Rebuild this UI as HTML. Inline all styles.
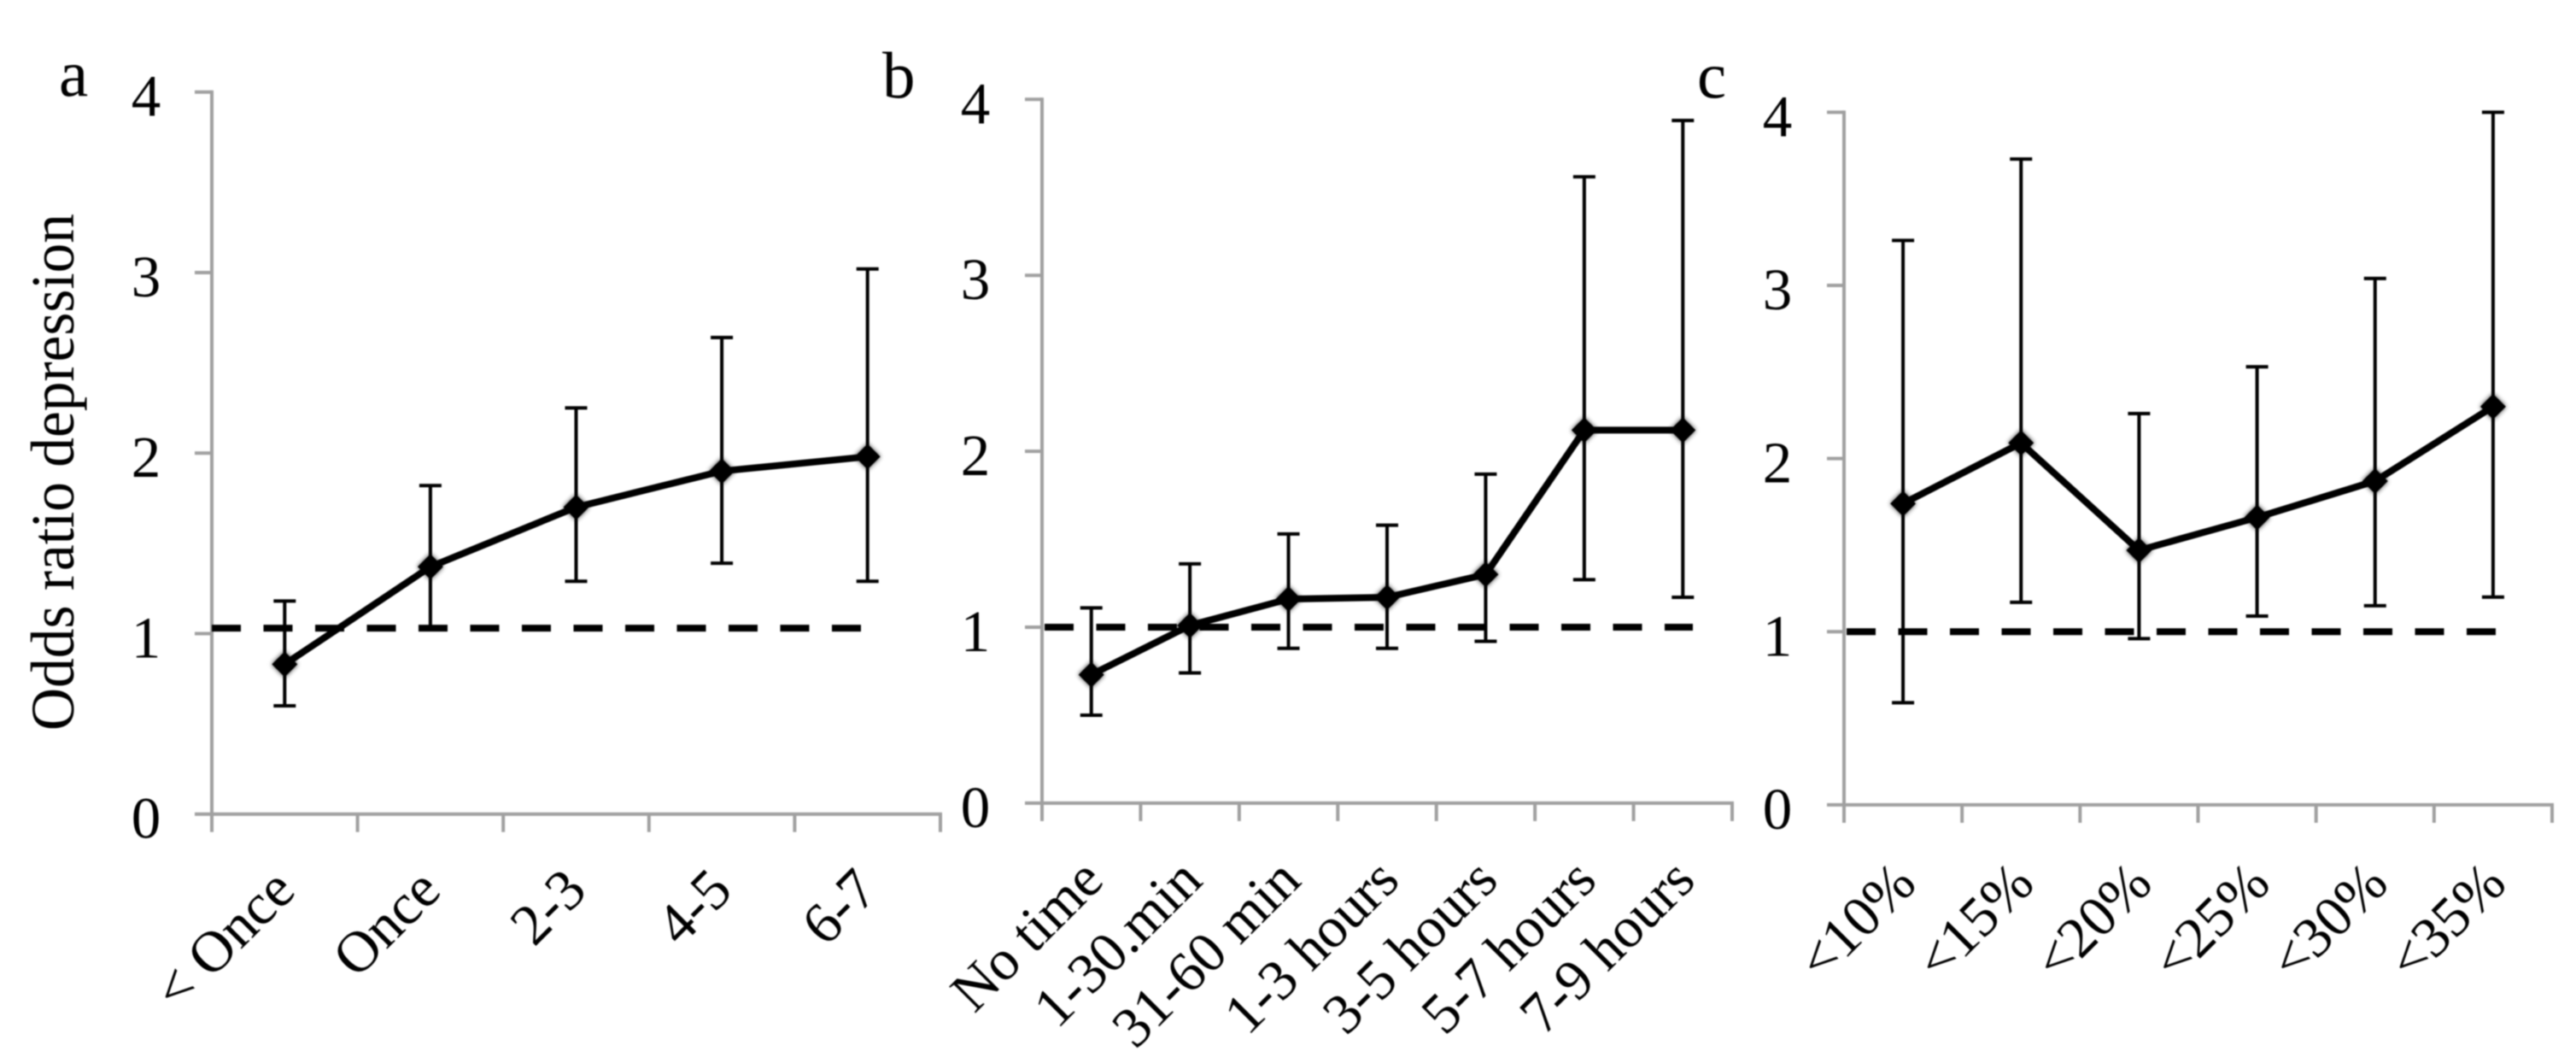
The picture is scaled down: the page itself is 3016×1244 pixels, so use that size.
<!DOCTYPE html>
<html lang="en">
<head>
<meta charset="utf-8">
<title>Odds ratio of depression by panel</title>
<style>
  html, body { margin: 0; padding: 0; background: #ffffff; }
  body { width: 3016px; height: 1244px; overflow: hidden; }
  svg { display: block; filter: blur(0.7px); }
  text { font-family: "Liberation Serif", "DejaVu Serif", serif; fill: #000; }
</style>
</head>
<body>
<svg id="chart" xmlns="http://www.w3.org/2000/svg" width="3016" height="1244" viewBox="0 0 3016 1244">
  <defs>
    <filter id="soft" x="-60%" y="-60%" width="220%" height="220%">
      <feGaussianBlur stdDeviation="3"></feGaussianBlur>
    </filter>
  </defs>
  <rect x="0" y="0" width="3016" height="1244" fill="#ffffff"></rect>
  <text transform="translate(86 855) rotate(-90)" font-size="72" textLength="605" lengthAdjust="spacingAndGlyphs">Odds ratio depression</text>
  <text x="69" y="112" font-size="77">a</text>
  <text x="1033" y="114" font-size="77">b</text>
  <text x="1987" y="114" font-size="77">c</text>
</svg>
<script>
const yTicks = [0, 1, 2, 3, 4];

const aCategories = ['< Once', 'Once', '2-3', '4-5', '6-7'];
const aValues = [0.83, 1.37, 1.70, 1.90, 1.98];
const aUpper = [1.18, 1.82, 2.25, 2.64, 3.02];
const aLower = [0.60, 1.03, 1.29, 1.39, 1.29];
const aReference = 1.03;

const bCategories = ['No time', '1-30.min', '31-60 min', '1-3 hours', '3-5 hours', '5-7 hours', '7-9 hours'];
const bValues = [0.73, 1.01, 1.16, 1.17, 1.30, 2.12, 2.12];
const bUpper = [1.11, 1.36, 1.53, 1.58, 1.87, 3.56, 3.88];
const bLower = [0.50, 0.74, 0.88, 0.88, 0.92, 1.27, 1.17];
const bReference = 1.0;

const cCategories = ['<10%', '<15%', '<20%', '<25%', '<30%', '<35%'];
const cValues = [1.74, 2.09, 1.47, 1.66, 1.87, 2.30];
const cUpper = [3.26, 3.73, 2.26, 2.53, 3.04, 4.00];
const cLower = [0.59, 1.17, 0.96, 1.09, 1.15, 1.20];
const cReference = 1.0;

const svg = document.getElementById('chart');
const NS = 'http://www.w3.org/2000/svg';

function make(tag, attrs, parent) {
  const el = document.createElementNS(NS, tag);
  for (const key in attrs) el.setAttribute(key, attrs[key]);
  parent.appendChild(el);
  return el;
}

function drawPanel(cfg, categories, values, upper, lower, reference) {
  const xScale = i => cfg.left + (cfg.right - cfg.left) * (i + 0.5) / categories.length;
  const tickX = i => cfg.left + (cfg.right - cfg.left) * i / categories.length;
  const yScale = v => cfg.y0 + (cfg.y4 - cfg.y0) * v / 4;

  const group = make('g', {}, svg);
  
  

  const axisStyle = { stroke: '#a0a0a0', 'stroke-width': 4, fill: 'none' };

  const yAxis = make('line', Object.assign({ x1: cfg.left, x2: cfg.left, y1: yScale(4) - 2, y2: yScale(0) + 2 }, axisStyle), group);
  
  

  const xAxis = make('line', Object.assign({ x1: cfg.left, x2: cfg.right + 2, y1: yScale(0), y2: yScale(0) }, axisStyle), group);
  
  

  yTicks.forEach(t => {
    const tick = make('line', Object.assign({ x1: cfg.left - 20, x2: cfg.left, y1: yScale(t), y2: yScale(t) }, axisStyle), group);
    
    

    const label = make('text', { x: cfg.labelX, y: yScale(t) + 28, 'font-size': 69, 'text-anchor': 'middle' }, group);
    
    
    label.textContent = String(t);
  });

  for (let i = 0; i <= categories.length; i++) {
    const tick = make('line', Object.assign({ x1: tickX(i), x2: tickX(i), y1: yScale(0), y2: yScale(0) + 21 }, axisStyle), group);
    
    
  }

  categories.forEach((name, i) => {
    const ex = xScale(i) + cfg.labelDx;
    const label = make('text', { transform: 'translate(' + ex + ' ' + cfg.labelY + ') rotate(-45)', 'font-size': cfg.labelSize, 'text-anchor': 'end' }, group);
    
    
    label.textContent = name;
  });

  const refLine = make('line', {
    x1: cfg.left + cfg.refInset, x2: cfg.refEnd, y1: yScale(reference), y2: yScale(reference),
    stroke: '#000', 'stroke-width': 8, 'stroke-dasharray': '34 26.5'
  }, group);
  
  

  values.forEach((v, i) => {
    const stem = make('line', { x1: xScale(i), x2: xScale(i), y1: yScale(upper[i]), y2: yScale(lower[i]), stroke: '#000', 'stroke-width': 4 }, group);
    
    

    const capTop = make('line', { x1: xScale(i) - 13, x2: xScale(i) + 13, y1: yScale(upper[i]), y2: yScale(upper[i]), stroke: '#000', 'stroke-width': 4 }, group);
    
    

    const capLow = make('line', { x1: xScale(i) - 13, x2: xScale(i) + 13, y1: yScale(lower[i]), y2: yScale(lower[i]), stroke: '#000', 'stroke-width': 4 }, group);
    
    
  });

  const pts = values.map((v, i) => xScale(i) + ',' + yScale(v)).join(' ');
  const line = make('polyline', { points: pts, fill: 'none', stroke: '#000', 'stroke-width': 8, 'stroke-linejoin': 'round' }, group);
  
  

  values.forEach((v, i) => {
    const x = xScale(i), y = yScale(v), r = 15;
    const shape = (x - r) + ',' + y + ' ' + x + ',' + (y - r) + ' ' + (x + r) + ',' + y + ' ' + x + ',' + (y + r);

    const glow = make('polygon', { points: shape, fill: '#000', opacity: 0.8, filter: 'url(#soft)' }, group);
    
    

    const marker = make('polygon', { points: shape, fill: '#000' }, group);
    
    
  });
}

const panelA = { id: 'a', left: 248, right: 1101, y0: 952.7, y4: 107.7, labelX: 171, labelDx: 15, labelY: 1045, labelSize: 68, refInset: 0, refEnd: 1009 };
const panelB = { id: 'b', left: 1220, right: 2028, y0: 939.9, y4: 116.3, labelX: 1142, labelDx: 17, labelY: 1033, labelSize: 67, refInset: 3, refEnd: 1982 };
const panelC = { id: 'c', left: 2159, right: 2988, y0: 941.9, y4: 131.4, labelX: 2081, labelDx: 18, labelY: 1037, labelSize: 67, refInset: 3, refEnd: 2924 };

drawPanel(panelA, aCategories, aValues, aUpper, aLower, aReference);
drawPanel(panelB, bCategories, bValues, bUpper, bLower, bReference);
drawPanel(panelC, cCategories, cValues, cUpper, cLower, cReference);
</script>
</body>
</html>
